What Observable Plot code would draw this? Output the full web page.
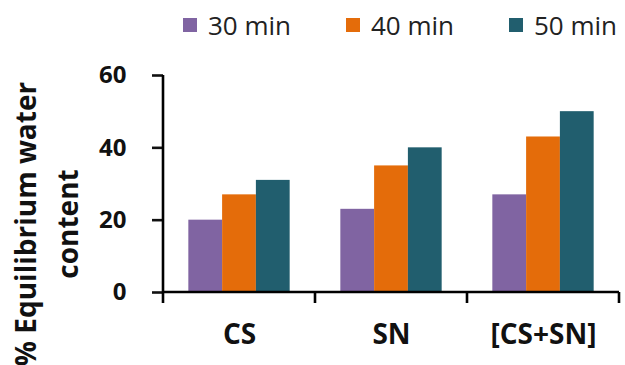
<!DOCTYPE html>
<html>
<head>
<meta charset="utf-8">
<script src="https://cdn.jsdelivr.net/npm/d3@7"></script>
<script src="https://cdn.jsdelivr.net/npm/@observablehq/plot@0.6"></script>
<style>
  html, body { margin: 0; padding: 0; background: #fff; }
  body { width: 625px; height: 365px; overflow: hidden; font-family: "Open Sans", sans-serif; }
  #legend { height: 50px; display: flex; align-items: center; padding-left: 183px; box-sizing: border-box; white-space: nowrap; }
  #legend .item { display: flex; align-items: center; flex: 0 0 auto; width: 163px; height: 36px; font-size: 26px; line-height: 36px; color: #222; }
  #legend .sw { display: block; flex: 0 0 auto; width: 14px; height: 14px; margin-right: 11px; }
  #chart svg { display: block; }
</style>
</head>
<body>
<div id="legend"></div>
<div id="chart"></div>
<script>
// Equilibrium water content (%) per coating, at three soaking times
const categories = ["CS", "SN", "[CS+SN]"];
const series = ["30 min", "40 min", "50 min"];
const values30 = [20, 23, 27];
const values40 = [27, 35, 43];
const values50 = [31, 40, 50];
const colors = ["#8064A2", "#E46C0A", "#215E6E"];
const yTicks = [0, 20, 40, 60];
const yLabel = "% Equilibrium water\ncontent";

const seriesValues = [values30, values40, values50];
const data = categories.flatMap((c, i) =>
  series.map((s, j) => ({category: c, series: s, value: seriesValues[j][i]}))
);

// legend row
const legend = document.getElementById("legend");
series.forEach((s, j) => {
  const item = document.createElement("div");
  item.className = "item";
  const sw = document.createElement("span");
  sw.className = "sw";
  sw.style.background = colors[j];
  const label = document.createElement("span");
  label.textContent = s;
  item.append(sw, label);
  legend.append(item);
});

// axis lines: y axis at the left, x axis along zero with ticks between groups
function axisLines(index, scales, values, dim) {
  const {y, fx} = scales;
  const g = d3.create("svg:g")
    .attr("stroke", "#000")
    .attr("stroke-width", 2.6)
    .attr("fill", "none");
  const left = dim.marginLeft;
  const right = dim.width - dim.marginRight;
  const y0 = y(0);
  g.append("line")
    .attr("x1", left).attr("x2", left)
    .attr("y1", y(d3.max(yTicks))).attr("y2", y0);
  g.append("line")
    .attr("x1", left).attr("x2", right)
    .attr("y1", y0).attr("y2", y0);
  let edges;
  if (fx && fx.bandwidth) {
    edges = categories.map((c) => fx(c));
    edges.push(fx(categories[categories.length - 1]) + fx.bandwidth());
  } else {
    edges = d3.range(categories.length + 1).map((i) => left + (right - left) * i / categories.length);
  }
  g.selectAll(".edge").data(edges).join("line")
    .attr("x1", (d) => d).attr("x2", (d) => d)
    .attr("y1", y0).attr("y2", y0 + 11);
  return g.node();
}

const chart = Plot.plot({
  width: 625,
  height: 315,
  marginLeft: 162,
  marginRight: 5,
  marginTop: 25,
  marginBottom: 73,
  style: {fontFamily: "Open Sans", color: "#111", background: "#fff"},
  fx: {domain: categories, padding: 0, label: null},
  x: {domain: series, paddingInner: 0, paddingOuter: 0.75, round: false, axis: null},
  y: {domain: [0, 60], label: null, axis: null},
  color: {domain: series, range: colors},
  marks: [
    Plot.barY(data, {fx: "category", x: "series", y: "value", fill: "series", inset: 0}),
    Plot.axisY({
      ticks: yTicks,
      tickSize: 11,
      tickPadding: 26,
      strokeWidth: 2.6,
      fontSize: 24,
      fontWeight: "bold",
      label: null,
      tickFormat: (d) => d
    }),
    Plot.axisFx({
      anchor: "bottom",
      tickSize: 0,
      tickPadding: 32,
      fontSize: 28,
      fontWeight: "bold",
      label: null
    }),
    Plot.text([yLabel], {
      facet: "super",
      frameAnchor: "left",
      rotate: -90,
      dx: -120,
      dy: 40,
      fontSize: 28,
      fontWeight: "bold",
      lineHeight: 1.5,
      textAnchor: "middle",
      fill: "#111"
    }),
    Plot.frame({facet: "super", render: axisLines})
  ]
});
document.getElementById("chart").append(chart);
</script>
</body>
</html>
